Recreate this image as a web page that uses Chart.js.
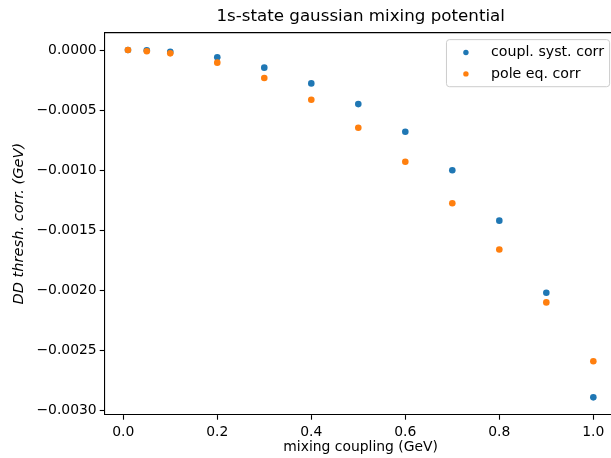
<!DOCTYPE html>
<html>
<head>
<meta charset="utf-8">
<script src="https://cdn.jsdelivr.net/npm/chart.js@4"></script>
<style>
  html, body { margin: 0; padding: 0; background: #fff; overflow: hidden; }
  #wrap { width: 640px; height: 458px; }
</style>
</head>
<body>
<div id="wrap"><canvas id="myChart" width="640" height="458"></canvas></div>
<script>
// data
const couplings = [0.01, 0.05, 0.1, 0.2, 0.3, 0.4, 0.5, 0.6, 0.7, 0.8, 0.9, 1.0];
const coupledCorr = [0, -0.000002, -0.000014, -0.00006, -0.000147, -0.000278, -0.00045, -0.00068, -0.001, -0.00142, -0.00202, -0.00289];
const poleCorr = [0, -0.00001, -0.000028, -0.000105, -0.000233, -0.000414, -0.000647, -0.00093, -0.001275, -0.00166, -0.0021, -0.00259];
const seriesNames = ['coupl. syst. corr', 'pole eq. corr'];

const xTicks = [0, 0.2, 0.4, 0.6, 0.8, 1.0];
const xTickLabels = ['0.0', '0.2', '0.4', '0.6', '0.8', '1.0'];
const yTicks = [-0.003, -0.0025, -0.002, -0.0015, -0.001, -0.0005, 0];
const yTickLabels = ['\u22120.0030', '\u22120.0025', '\u22120.0020', '\u22120.0015', '\u22120.0010', '\u22120.0005', '0.0000'];

const blue = '#1f77b4';
const orange = '#ff7f0e';
const font = 'DejaVu Sans';

// top edge of the axes box (right edge is cut off by the window) + matplotlib-ish legend
const framePlugin = {
  id: 'frame',
  afterDatasetsDraw(chart) {
    const { ctx, chartArea: a } = chart;
    ctx.save();
    ctx.strokeStyle = '#000';
    ctx.lineWidth = 1.1;
    ctx.beginPath();
    ctx.moveTo(a.left, a.top);
    ctx.lineTo(a.right, a.top);
    ctx.stroke();

    const em = 13.9;
    const pad = 0.4 * em;
    const rowH = 14.5;
    ctx.font = '14.2px "' + font + '"';
    const tw = Math.max(...seriesNames.map(s => ctx.measureText(s).width));
    const w = pad * 2 + 2 * em + 0.8 * em + tw;
    const h = pad * 2 + rowH * 2 + 0.5 * em;
    const x0 = a.right - 7 - w;
    const y0 = a.top + 7;
    ctx.beginPath();
    ctx.roundRect(x0, y0, w, h, 3);
    ctx.fillStyle = 'rgba(255,255,255,0.8)';
    ctx.fill();
    ctx.strokeStyle = '#cccccc';
    ctx.lineWidth = 1;
    ctx.stroke();

    ctx.textBaseline = 'middle';
    ctx.textAlign = 'left';
    chart.data.datasets.forEach((ds, i) => {
      const cy = y0 + pad + rowH / 2 + i * (rowH + 0.5 * em);
      ctx.beginPath();
      ctx.arc(x0 + pad + em, cy, 2.7, 0, Math.PI * 2);
      ctx.fillStyle = ds.backgroundColor;
      ctx.fill();
      ctx.fillStyle = '#000';
      ctx.fillText(ds.label, x0 + pad + 2.8 * em, cy);
    });
    ctx.restore();
  }
};

const ctx = document.getElementById('myChart');
new Chart(ctx, {
  type: 'scatter',
  data: {
    datasets: [{
      label: seriesNames[0],
      data: couplings.map((x, i) => ({ x: x, y: coupledCorr[i] })),
      backgroundColor: blue,
      borderWidth: 0,
      pointRadius: 3.3,
      order: 1
    }, {
      label: seriesNames[1],
      data: couplings.map((x, i) => ({ x: x, y: poleCorr[i] })),
      backgroundColor: orange,
      borderWidth: 0,
      pointRadius: 3.3,
      order: 0
    }]
  },
  options: {
    responsive: false,
    animation: false,
    devicePixelRatio: 1,
    layout: { padding: { left: 0, right: 23.4, top: 0, bottom: 0 } },
    plugins: {
      legend: { display: false },
      tooltip: { enabled: false },
      title: {
        display: true,
        text: '1s-state gaussian mixing potential',
        fullSize: false,
        color: '#000',
        font: { family: font, size: 16.7, weight: 'normal', lineHeight: 1.2 },
        padding: { top: 7, bottom: 5.6 }
      }
    },
    scales: {
      x: {
        type: 'linear',
        min: -0.0395,
        max: 1.0495,
        afterBuildTicks: s => { s.ticks = xTicks.map(v => ({ value: v })); },
        afterFit: s => { s.height = 43.3; },
        grid: { drawOnChartArea: false, drawTicks: true, tickLength: 5, color: '#000', tickWidth: 1.1 },
        border: { display: true, color: '#000', width: 1.1 },
        ticks: {
          autoSkip: false,
          maxRotation: 0,
          padding: 4,
          color: '#000',
          font: { family: font, size: 13.9 },
          callback: v => xTickLabels[xTicks.indexOf(v)]
        },
        title: {
          display: true,
          text: 'mixing coupling (GeV)',
          color: '#000',
          font: { family: font, size: 13.9, lineHeight: 1.2 },
          padding: { top: 0, bottom: 2.7 }
        }
      },
      y: {
        type: 'linear',
        min: -0.0030345,
        max: 0.0001445,
        afterBuildTicks: s => { s.ticks = yTicks.map(v => ({ value: v })); },
        afterFit: s => { s.width = 104.7; },
        grid: { drawOnChartArea: false, drawTicks: true, tickLength: 5, color: '#000', tickWidth: 1.1 },
        border: { display: true, color: '#000', width: 1.1 },
        ticks: {
          autoSkip: false,
          padding: 3,
          color: '#000',
          font: { family: font, size: 13.9 },
          callback: v => yTickLabels[yTicks.indexOf(v)]
        },
        title: {
          display: true,
          text: 'DD thresh. corr. (GeV)',
          color: '#000',
          font: { family: font, size: 14.6, style: 'italic', lineHeight: 1.2 },
          padding: { top: 10.3, bottom: 0 }
        }
      }
    }
  },
  plugins: [framePlugin]
});
</script>
</body>
</html>
